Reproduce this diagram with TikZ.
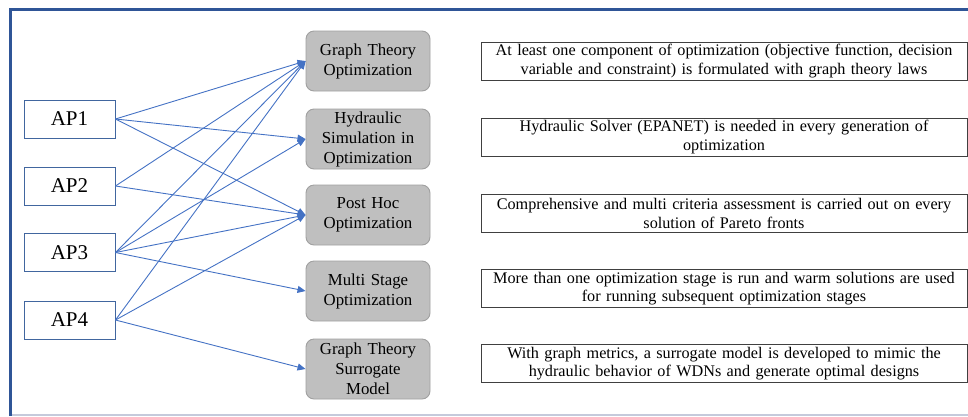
\documentclass[tikz,border=0pt]{standalone}
\usepackage{fontspec}
\setmainfont{Liberation Serif}
\usetikzlibrary{arrows.meta}
\definecolor{framecol}{HTML}{2F5597}
\definecolor{linkcol}{HTML}{4472C4}
\definecolor{apedge}{HTML}{41669F}
\definecolor{boxfill}{HTML}{BFBFBF}
\definecolor{boxedge}{HTML}{A0A0A0}
\definecolor{footcol}{HTML}{C5CADB}
\begin{document}
\begin{tikzpicture}[x=1pt,y=-1pt,
  apbox/.style={draw=apedge, line width=0.9pt, minimum width=91pt, minimum height=38pt,
    inner sep=0pt, font=\rmfamily\fontsize{21}{24}\selectfont},
  method/.style={draw=boxedge, fill=boxfill, line width=0.9pt, rounded corners=8pt,
    text width=120pt, inner xsep=2pt, inner ysep=0pt, minimum height=60pt, align=center,
    font=\rmfamily\fontsize{16.8}{20}\selectfont},
  desc/.style={draw=black!75, line width=0.9pt, text width=480pt, inner xsep=3pt,
    inner ysep=0pt, minimum height=38pt, align=center,
    font=\rmfamily\fontsize{16.2}{18.5}\selectfont},
  link/.style={draw=linkcol, line width=0.9pt, -{Triangle[length=8pt,width=7pt]}}]
\useasboundingbox (0,0) rectangle (968,416);
% outer frame
\draw[footcol, line width=2pt] (10,415) -- (968,415);
\draw[framecol, line width=3pt] (10.5,416) -- (10.5,9.5) -- (968,9.5);

% approach boxes
\node[apbox] (ap1) at (69.5,119) {AP1};
\node[apbox] (ap2) at (69.5,186) {AP2};
\node[apbox] (ap3) at (69.5,252.5) {AP3};
\node[apbox] (ap4) at (69.5,320) {AP4};

% method boxes
\node[method] (gto) at (368,61) {Graph Theory\\Optimization};
\node[method] (hso) at (368,139) {Hydraulic\\Simulation in\\Optimization};
\node[method] (pho) at (368,215) {Post Hoc\\Optimization};
\node[method] (mso) at (368,291) {Multi Stage\\Optimization};
\node[method] (gts) at (368,369) {Graph Theory\\Surrogate\\Model};

% descriptions
\node[desc] (d1) at (724,61) {At least one component of optimization (objective function, decision\\variable and constraint) is formulated with graph theory laws};
\node[desc] (d2) at (724,137) {Hydraulic Solver (EPANET) is needed in every generation of\\optimization};
\node[desc] (d3) at (724,213.5) {Comprehensive and multi criteria assessment is carried out on every\\solution of Pareto fronts};
\node[desc] (d4) at (724,288.5) {More than one optimization stage is run and warm solutions are used\\for running subsequent optimization stages};
\node[desc] (d5) at (724,363.5) {With graph metrics, a surrogate model is developed to mimic the\\hydraulic behavior of WDNs and generate optimal designs};

% links
\draw[link] (ap1.east) -- (gto.west);
\draw[link] (ap1.east) -- (hso.west);
\draw[link] (ap1.east) -- (pho.west);
\draw[link] (ap2.east) -- (gto.west);
\draw[link] (ap2.east) -- (pho.west);
\draw[link] (ap3.east) -- (gto.west);
\draw[link] (ap3.east) -- (hso.west);
\draw[link] (ap3.east) -- (pho.west);
\draw[link] (ap3.east) -- (mso.west);
\draw[link] (ap4.east) -- (gto.west);
\draw[link] (ap4.east) -- (pho.west);
\draw[link] (ap4.east) -- (gts.west);
\end{tikzpicture}
\end{document}
